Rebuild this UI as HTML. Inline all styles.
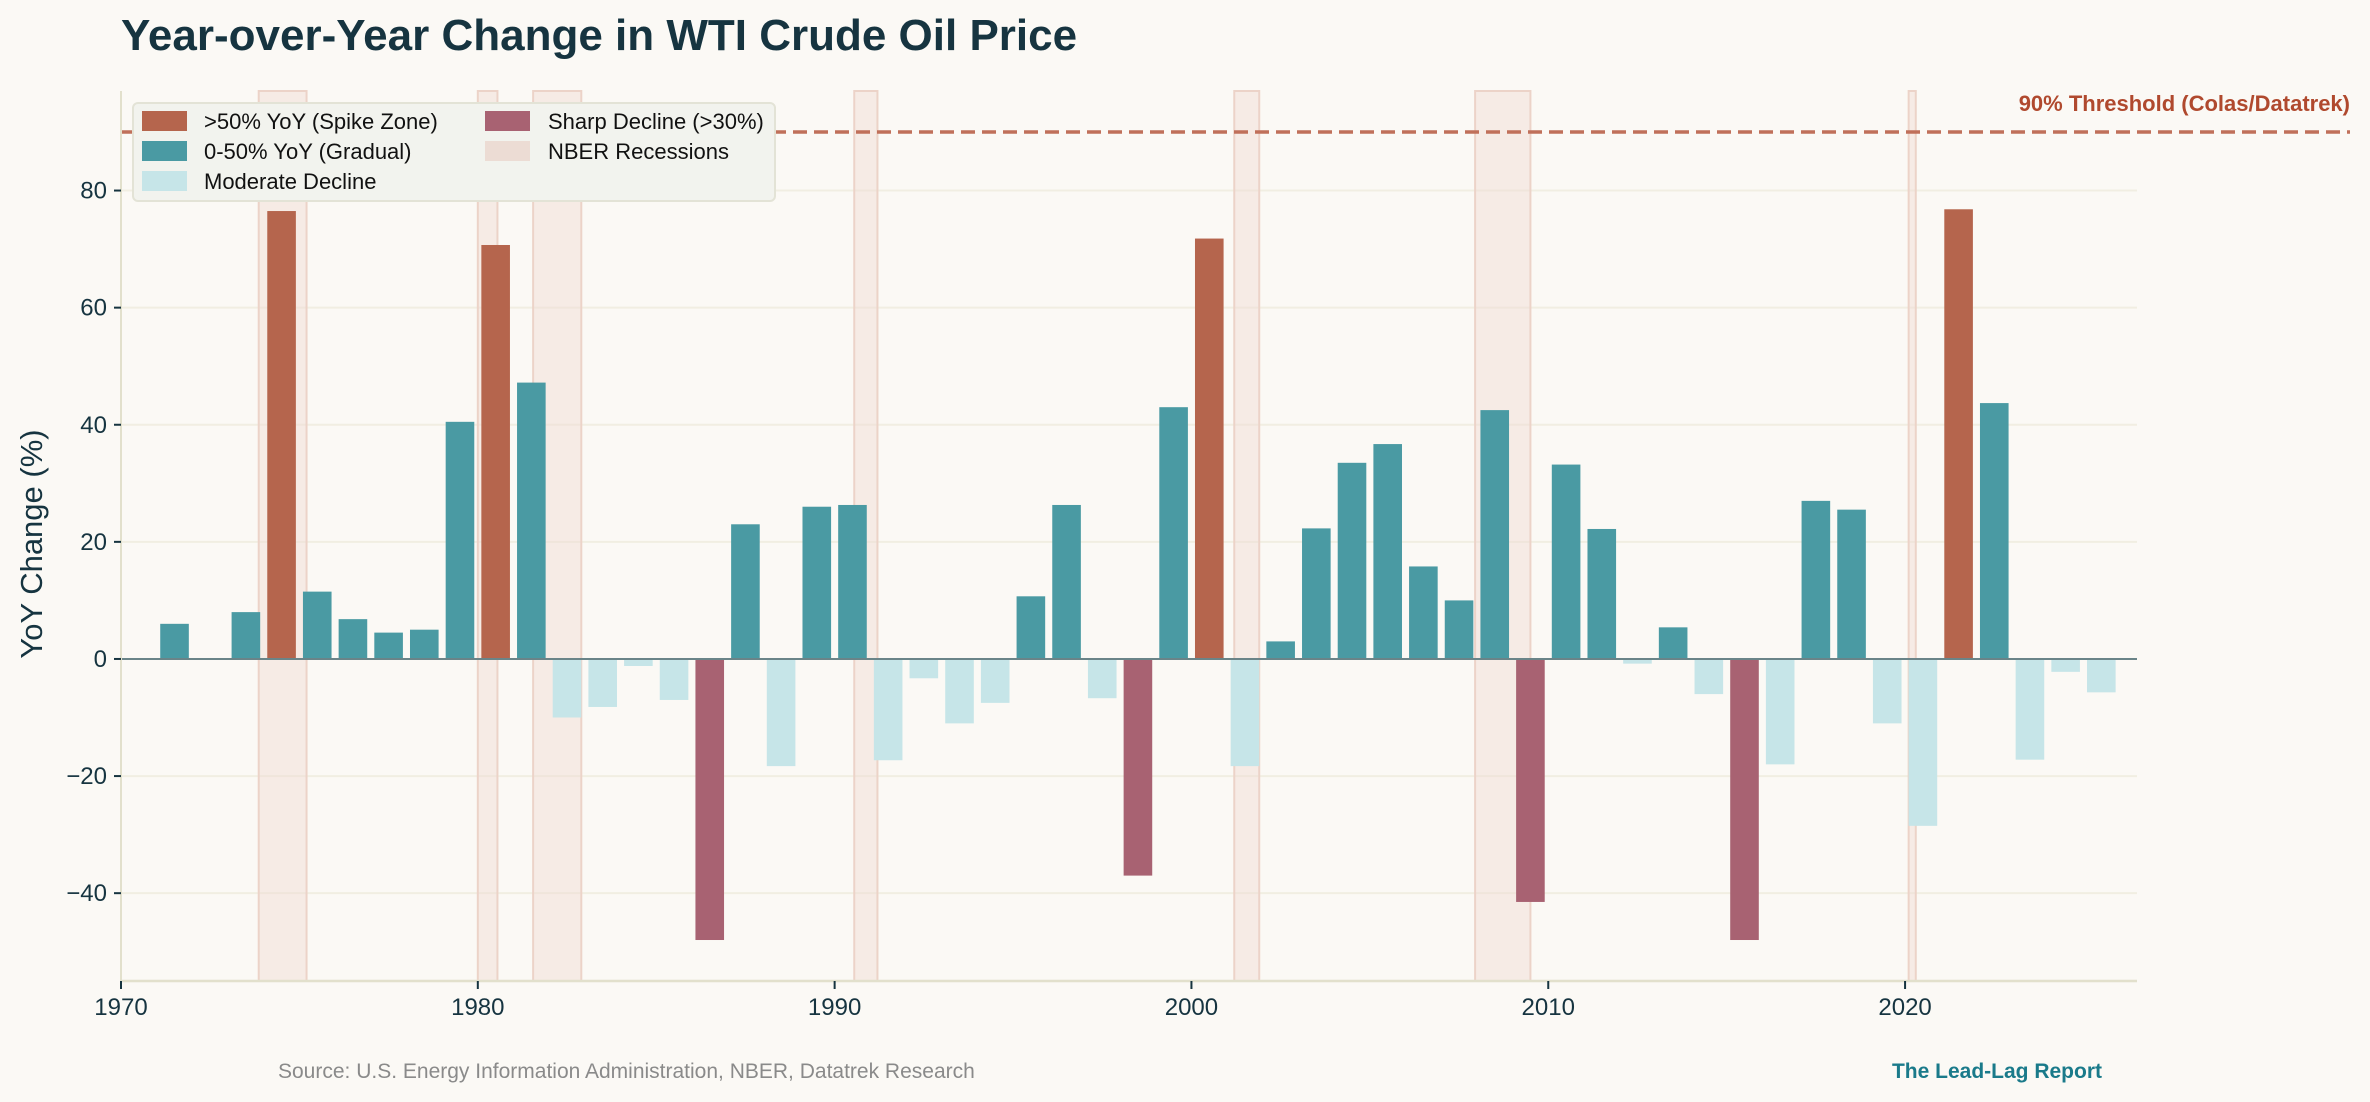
<!DOCTYPE html>
<html><head><meta charset="utf-8"><style>
body{margin:0;background:#fbf9f5;}
svg{display:block;font-family:"Liberation Sans",sans-serif;}
</style></head><body>
<svg id="chart" width="2370" height="1102" viewBox="0 0 2370 1102">
<rect width="2370" height="1102" fill="#fbf9f5"/>
<text x="121" y="50" font-size="44" font-weight="bold" fill="#163440">Year-over-Year Change in WTI Crude Oil Price</text>
<g id="grid"></g>
<g id="rec"></g>
<g id="bars"></g>
<g id="axes"></g>
<text x="2350" y="111" text-anchor="end" font-size="22" font-weight="bold" fill="#b0492e">90% Threshold (Colas/Datatrek)</text>
<text transform="translate(42,544) rotate(-90)" text-anchor="middle" font-size="31" fill="#163440">YoY Change (%)</text>
<g>
<rect x="133" y="103" width="642" height="98" rx="5" fill="#f2f3ee" stroke="#e3e3d6" stroke-width="2"/>
<rect x="142" y="111" width="45" height="20" fill="#b5654d"/><text x="204" y="129" font-size="22" fill="#111">&gt;50% YoY (Spike Zone)</text>
<rect x="142" y="141" width="45" height="20" fill="#4a9aa3"/><text x="204" y="159" font-size="22" fill="#111">0-50% YoY (Gradual)</text>
<rect x="142" y="171" width="45" height="20" fill="#c6e5e8"/><text x="204" y="189" font-size="22" fill="#111">Moderate Decline</text>
<rect x="485" y="111" width="45" height="20" fill="#a86272"/><text x="548" y="129" font-size="22" fill="#111">Sharp Decline (&gt;30%)</text>
<rect x="485" y="141" width="45" height="20" fill="#ecdcd4"/><text x="548" y="159" font-size="22" fill="#111">NBER Recessions</text>
</g>
<text x="278" y="1078" font-size="21" fill="#8a8a8a">Source: U.S. Energy Information Administration, NBER, Datatrek Research</text>
<text x="2102" y="1078" text-anchor="end" font-size="21" font-weight="bold" fill="#1a7a8a">The Lead-Lag Report</text>
</svg>
<script>
const years=[1971,1972,1973,1974,1975,1976,1977,1978,1979,1980,1981,1982,1983,1984,1985,1986,1987,1988,1989,1990,1991,1992,1993,1994,1995,1996,1997,1998,1999,2000,2001,2002,2003,2004,2005,2006,2007,2008,2009,2010,2011,2012,2013,2014,2015,2016,2017,2018,2019,2020,2021,2022,2023,2024,2025];
const yoy=[6,0,8,76.5,11.5,6.8,4.5,5,40.5,70.7,47.2,-10,-8.2,-1.2,-7,-48,23,-18.3,26,26.3,-17.3,-3.3,-11,-7.5,10.7,26.3,-6.7,-37,43,71.8,-18.3,3,22.3,33.5,36.7,15.8,10,42.5,-41.5,33.2,22.2,-0.8,5.4,-6,-48,-18,27,25.5,-11,-28.5,76.8,43.7,-17.2,-2.2,-5.7];
const recStart=[1973.86,1980.0,1981.55,1990.55,2001.2,2007.95,2020.1];
const recEnd=[1975.2,1980.55,1982.9,1991.2,2001.9,2009.5,2020.3];
const yTicks=[-40,-20,0,20,40,60,80];
const xTicks=[1970,1980,1990,2000,2010,2020];
const threshold=[90];
const NS='http://www.w3.org/2000/svg';
const L=121,R=2137,T=91,B=981,X0=1970,X1=2026.5,Y0=-55,Y1=97;
const sx=v=>L+(v-X0)/(X1-X0)*(R-L);
const sy=v=>B-(v-Y0)/(Y1-Y0)*(B-T);
function mk(tag,attrs,parent){const e=document.createElementNS(NS,tag);for(const k in attrs)e.setAttribute(k,attrs[k]);document.getElementById(parent).appendChild(e);return e;}
yTicks.forEach(t=>{
 const g=mk('line',{x1:L,x2:R,y1:sy(t),y2:sy(t),stroke:'#f1eee2','stroke-width':2},'grid');
 
 
});
recStart.forEach((s,i)=>{
 const r=mk('rect',{x:sx(s),y:T,width:sx(recEnd[i])-sx(s),height:B-T,fill:'#efd9d2','fill-opacity':0.45,stroke:'#ecd3c8','stroke-width':2},'rec');
 
 
});
years.forEach((y,i)=>{
 const v=yoy[i];if(v===0)return;
 let c=v>50?'#b5654d':v>=0?'#4a9aa3':v<-30?'#a86272':'#c6e5e8';
 const x=sx(y+0.5)-14.3;
 const b=mk('rect',{x:x,y:Math.min(sy(v),sy(0)),width:28.6,height:Math.abs(sy(v)-sy(0)),fill:c},'bars');
 
 
});
const z=mk('line',{x1:L,x2:R,y1:sy(0),y2:sy(0),stroke:'#6a8488','stroke-width':2},'axes');


const th=mk('line',{x1:L,x2:2350,y1:sy(threshold[0]),y2:sy(threshold[0]),stroke:'#c0705a','stroke-width':3.5,'stroke-dasharray':'14,7'},'axes');


const la=mk('line',{x1:L,x2:L,y1:T,y2:B,stroke:'#e2e0cc','stroke-width':2},'axes');


const ba=mk('line',{x1:L,x2:R,y1:B,y2:B,stroke:'#e2e0cc','stroke-width':2.5},'axes');


yTicks.forEach(t=>{
 const tk=mk('line',{x1:L-7,x2:L,y1:sy(t),y2:sy(t),stroke:'#163440','stroke-width':2},'axes');
 
 
 const tx=mk('text',{x:L-14,y:sy(t)+8,'text-anchor':'end','font-size':24,fill:'#163440'},'axes');
 tx.textContent=(t<0?'\u2212'+(-t):t);
 
 
});
xTicks.forEach(t=>{
 const tk=mk('line',{x1:sx(t),x2:sx(t),y1:B,y2:B+8,stroke:'#163440','stroke-width':2},'axes');
 
 
 const tx=mk('text',{x:sx(t),y:B+34,'text-anchor':'middle','font-size':24,fill:'#163440'},'axes');
 tx.textContent=t;
 
 
});
</script>
</body></html>
